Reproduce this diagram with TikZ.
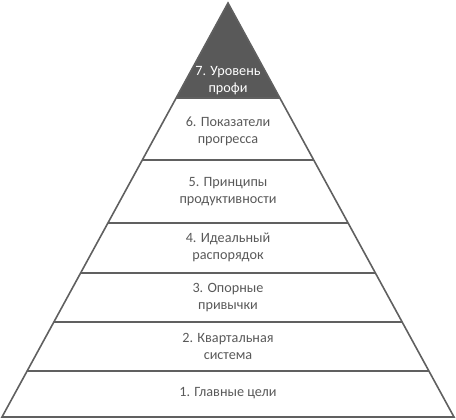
\documentclass[tikz,border=0pt]{standalone}
\usepackage{fontspec}
\setmainfont{Carlito}
\usetikzlibrary{calc}
\definecolor{edge}{HTML}{606060}
\definecolor{darkfill}{HTML}{595959}
\definecolor{txt}{HTML}{595959}
\begin{document}
\begin{tikzpicture}[x=1bp,y=-1bp,
  edgeline/.style={draw=edge,line width=1.6bp},
  lbl/.style={align=center,text=txt,font=\fontsize{14.2bp}{17bp}\selectfont,inner sep=0pt},
  toplbl/.style={lbl,text=white}]
\useasboundingbox (0,0) rectangle (456,419);
\coordinate (apex) at (228,3);
\coordinate (bl) at (2,417);
\coordinate (br) at (454,417);
\path (apex) -- (bl)
  coordinate[pos=0.2295] (L1) coordinate[pos=0.3792] (L2)
  coordinate[pos=0.5314] (L3) coordinate[pos=0.6522] (L4)
  coordinate[pos=0.7705] (L5) coordinate[pos=0.8889] (L6);
\path (apex) -- (br)
  coordinate[pos=0.2295] (R1) coordinate[pos=0.3792] (R2)
  coordinate[pos=0.5314] (R3) coordinate[pos=0.6522] (R4)
  coordinate[pos=0.7705] (R5) coordinate[pos=0.8889] (R6);
\fill[darkfill] (apex) -- (L1) -- (R1) -- cycle;
\foreach \i in {1,...,6} { \draw[edgeline] (L\i) -- (R\i); }
\draw[edgeline,line join=miter] (apex) -- (bl) -- (br) -- cycle;
\node[toplbl] (t7) at (228,81) {7. Уровень\\профи};
\node[lbl] (t6) at (228,131) {6. Показатели\\прогресса};
\node[lbl] (t5) at (228,192) {5. Принципы\\продуктивности};
\node[lbl] (t4) at (228,247) {4. Идеальный\\распорядок};
\node[lbl] (t3) at (228,298) {3. Опорные\\привычки};
\node[lbl] (t2) at (228,346) {2. Квартальная\\система};
\node[lbl] (t1) at (228,393) {1. Главные цели};
\end{tikzpicture}
\end{document}
